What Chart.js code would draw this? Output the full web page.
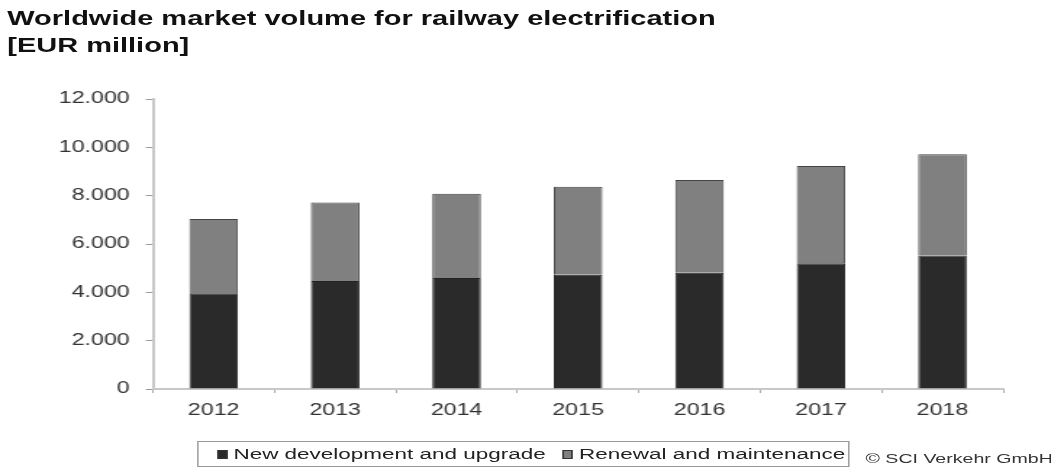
<!DOCTYPE html>
<html>
<head>
<meta charset="utf-8">
<script src="https://cdn.jsdelivr.net/npm/chart.js@4"></script>
<style>
  html, body { margin: 0; padding: 0; background: #fff; overflow: hidden; }
  /* the reference is a narrower chart stretched sideways; draw it at 725px and stretch */
  #wrap { position: relative; width: 725px; height: 469px; transform: scaleX(1.4497); transform-origin: 0 0;
          font-family: 'Liberation Sans', Arial, sans-serif; }
  #chart { position: absolute; left: 0; top: 0; }
  .title { position: absolute; left: 5px; top: 5px; font-weight: bold; font-size: 20px; line-height: 27px; color: #111; white-space: nowrap; }
  .legend { position: absolute; left: 136px; top: 441px; width: 450px; height: 26px; border: 1px solid #999; box-sizing: border-box;
            font-size: 15.5px; color: #222; display: flex; align-items: center; padding-left: 13px; white-space: nowrap; }
  .legend .sw { display: inline-block; width: 7px; height: 9px; margin-right: 4px; border: 1px solid #333; box-sizing: border-box; }
  .legend .item { margin-right: 12px; display: flex; align-items: center; }
  .copy { position: absolute; left: 597px; top: 451px; font-size: 13.5px; color: #333; white-space: nowrap; }
</style>
</head>
<body>
<div id="wrap">
  <canvas id="chart" width="725" height="469"></canvas>
  <div class="title">Worldwide market volume for railway electrification<br>[EUR million]</div>
  <div class="legend">
    <span class="item"><span class="sw" style="background:#2a2a2a"></span>New development and upgrade</span>
    <span class="item"><span class="sw" style="background:#808080"></span>Renewal and maintenance</span>
  </div>
  <div class="copy">© SCI Verkehr GmbH</div>
</div>
<script>
const years = ['2012', '2013', '2014', '2015', '2016', '2017', '2018']
const newDevelopment = [3960, 4470, 4590, 4730, 4810, 5200, 5520]
const renewal = [3070, 3250, 3490, 3640, 3840, 4030, 4190]
const yTicks = [0, 2000, 4000, 6000, 8000, 10000, 12000]

// German style thousands separator: 12.000
const fmt = v => v === 0 ? '0' : Math.floor(v / 1000) + '.' + String(v % 1000).padStart(3, '0')
const tickFont = { family: "'Liberation Sans', Arial, sans-serif", size: 16 }

const ctx = document.getElementById('chart').getContext('2d')
new Chart(ctx, {
  type: 'bar',
  data: {
    labels: years,
    datasets: [
      { label: 'New development and upgrade', data: newDevelopment, backgroundColor: '#2a2a2a', borderColor: '#222', borderWidth: 1 },
      { label: 'Renewal and maintenance', data: renewal, backgroundColor: '#808080', borderColor: '#444', borderWidth: 1 }
    ]
  },
  options: {
    responsive: false,
    animation: false,
    layout: { padding: { left: 0, right: 33, top: 99, bottom: 50 } },
    plugins: { legend: { display: false }, title: { display: false }, tooltip: { enabled: false } },
    datasets: { bar: { categoryPercentage: 1, barPercentage: 0.4 } },
    scales: {
      x: {
        stacked: true,
        afterFit: s => { s.height = 30 },
        grid: { offset: true, drawOnChartArea: false, drawTicks: true, tickLength: 4, color: '#aaa' },
        border: { color: '#c8c8c8', width: 2 },
        ticks: { color: '#333', font: tickFont, padding: 8 }
      },
      y: {
        stacked: true,
        min: 0, max: 12000,
        afterFit: s => { s.width = 105.5 },
        afterBuildTicks: s => { s.ticks = yTicks.map(v => ({ value: v })) },
        grid: { drawOnChartArea: false, drawTicks: true, tickLength: 5, color: '#999' },
        border: { color: '#c8c8c8', width: 2 },
        ticks: { color: '#333', font: tickFont, padding: 11, callback: v => fmt(v) }
      }
    }
  }
})
</script>
</body>
</html>
